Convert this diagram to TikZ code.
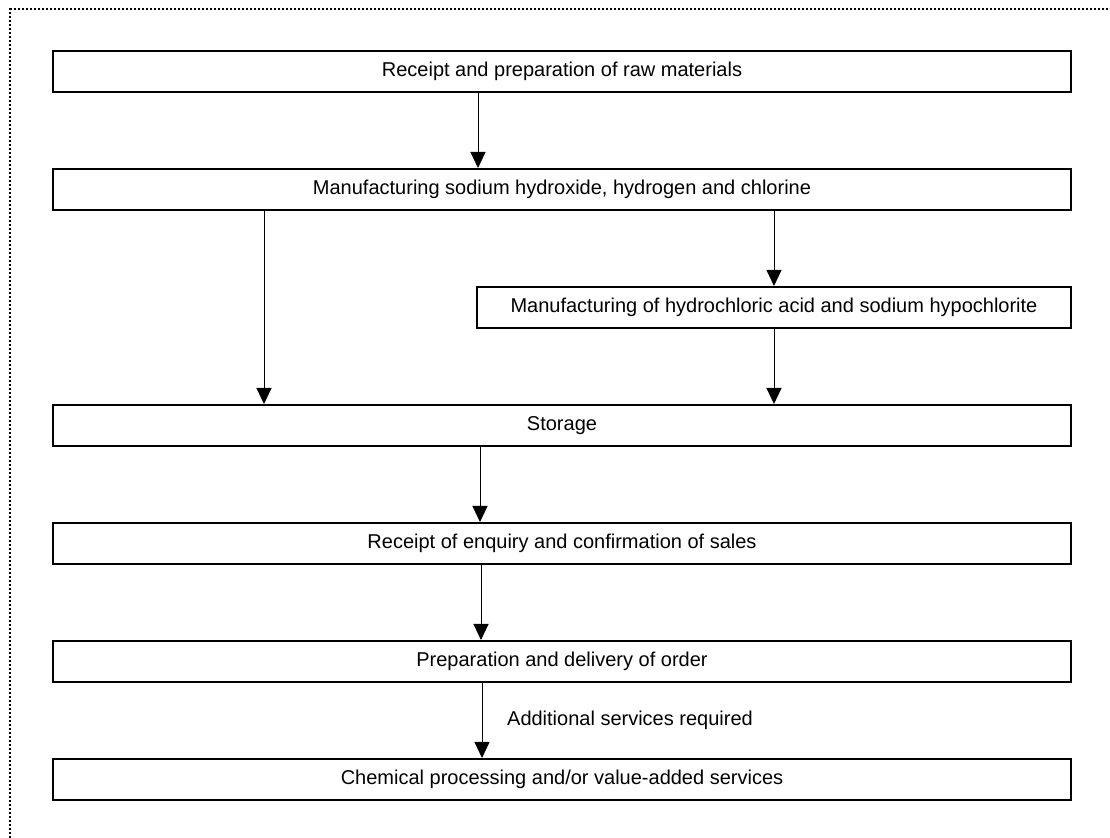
\documentclass[tikz,border=0pt]{standalone}
\usepackage{fontspec}
\setmainfont{Liberation Sans}
\usepackage{tikz}
\usepackage{xcolor}
\usetikzlibrary{arrows.meta,positioning}
\definecolor{Ink}{HTML}{000000}
\definecolor{Paper}{HTML}{FFFFFF}
\tikzset{
  box/.style={draw=Ink,fill=Paper,line width=1pt,minimum width=509pt,minimum height=20.5pt,inner sep=0pt,align=center,font=\fontsize{10pt}{12pt}\selectfont,text=Ink},
  note/.style={font=\fontsize{10pt}{12pt}\selectfont,text=Ink},
  arr/.style={-{Triangle[length=8pt,width=7.5pt]},draw=Ink,line width=0.5pt},
  frame/.style={draw=Ink,line width=1pt,dash pattern=on 1pt off 1pt}
}
\begin{document}
\begin{tikzpicture}[x=0.5pt,y=-0.5pt,node distance=37.5pt]
  \useasboundingbox (0,0) rectangle (1110,838);
  \draw[frame] (10,838) -- (10,9.5) -- (1110,9.5);
  \node[box] (raw) at (562,71.5) {Receipt and preparation of raw materials};
  \node[box,below=of raw] (cell) {Manufacturing sodium hydroxide, hydrogen and chlorine};
  \node[box,minimum width=297pt,below=of cell.south east,anchor=north east] (acid) {Manufacturing of hydrochloric acid and sodium hypochlorite};
  \node[box,below=of acid.south east,anchor=north east] (store) {Storage};
  \node[box,below=of store] (enquiry) {Receipt of enquiry and confirmation of sales};
  \node[box,below=of enquiry] (order) {Preparation and delivery of order};
  \node[box,below=of order] (chem) {Chemical processing and/or value-added services};
  \draw[arr] ([xshift=-42pt]raw.south) -- ([xshift=-42pt]cell.north);
  \draw[arr] ([xshift=-149pt]cell.south) -- ([xshift=-149pt]store.north);
  \draw[arr] ([xshift=106pt]cell.south) -- (acid.north);
  \draw[arr] (acid.south) -- (acid.south |- store.north);
  \draw[arr] ([xshift=-41pt]store.south) -- ([xshift=-41pt]enquiry.north);
  \draw[arr] ([xshift=-40.5pt]enquiry.south) -- ([xshift=-40.5pt]order.north);
  \draw[arr] ([xshift=-40pt]order.south) -- node[note,right=9pt] {Additional services required} ([xshift=-40pt]chem.north);
\end{tikzpicture}
\end{document}
